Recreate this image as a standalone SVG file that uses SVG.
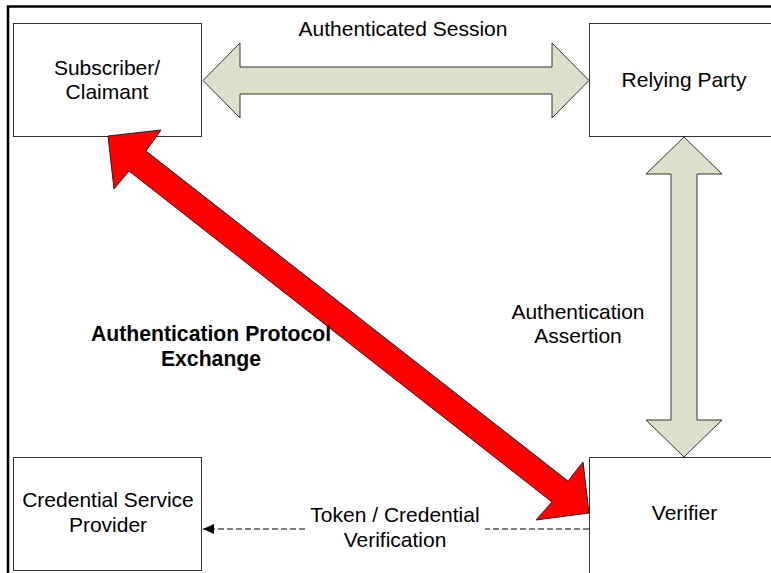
<svg xmlns="http://www.w3.org/2000/svg" width="771" height="573" viewBox="0 0 771 573">
<style>
.box{fill:#fff;stroke:#333;stroke-width:1}
.lbl{font-family:"Liberation Sans",Arial,sans-serif;font-size:21px;fill:#000;text-anchor:middle}
.bold{font-weight:bold;font-size:21.2px}
.fat{fill:#DCDFCA;stroke:#333;stroke-width:1}
.red{fill:#FF0000;stroke:#222;stroke-width:1}
.dash{stroke:#555;stroke-width:1.3;stroke-dasharray:6,3;fill:none}
</style>
<defs>
<marker id="ah" markerWidth="12" markerHeight="10" refX="11" refY="5" orient="auto" markerUnits="userSpaceOnUse">
<path d="M0,0 L11,5 L0,10 Z" fill="#000"/>
</marker>
</defs>
<rect width="771" height="573" fill="#fff"/>
<path d="M772,6.5 H8 V573" fill="none" stroke="#000" stroke-width="2.6"/>
<g id="subscriber">
<rect class="box" x="13.5" y="23.5" width="188" height="113"/>
<text class="lbl" x="107" y="75">Subscriber/</text>
<text class="lbl" x="107" y="99">Claimant</text>
</g>
<g id="relying-party">
<rect class="box" x="589.5" y="23.5" width="190" height="113"/>
<text class="lbl" x="684" y="87">Relying Party</text>
</g>
<g id="csp">
<rect class="box" x="13.5" y="457.5" width="188" height="113"/>
<text class="lbl" x="108" y="507">Credential Service</text>
<text class="lbl" x="108" y="532">Provider</text>
</g>
<g id="verifier">
<rect class="box" x="589.5" y="457.5" width="190" height="120"/>
<text class="lbl" x="684.5" y="520">Verifier</text>
</g>
<g id="connectors">
<g id="session">
<path class="fat" d="M203,80.5 L240,43 L240,67 L552,67 L552,43 L589,80.5 L552,118 L552,94 L240,94 L240,118 Z"/>
<text class="lbl" x="403" y="36">Authenticated Session</text>
</g>
<g id="assertion">
<path class="fat" d="M684,137 L722,174 L697,174 L697,420 L722,420 L684,457 L646,420 L671,420 L671,174 L646,174 Z"/>
<text class="lbl" x="578" y="319">Authentication</text>
<text class="lbl" x="578" y="343">Assertion</text>
</g>
<g id="protocol">
<path class="red" d="M108,136 L161,130 L146,151 L568,481 L583,462 L589,513 L536,520 L552,502 L129,171 L114,189 Z"/>
<text class="lbl bold" x="211" y="341">Authentication Protocol</text>
<text class="lbl bold" x="211" y="366">Exchange</text>
</g>
<g id="token">
<path class="dash" d="M589,529 H485"/>
<path class="dash" d="M305,529 H203" marker-end="url(#ah)"/>
<text class="lbl" x="395" y="522">Token / Credential</text>
<text class="lbl" x="395" y="547">Verification</text>
</g>
</g>
</svg>
